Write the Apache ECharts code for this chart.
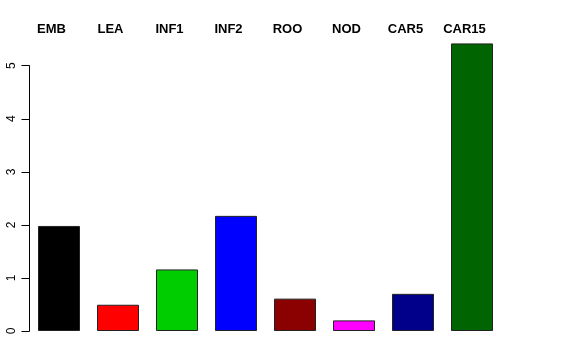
<!DOCTYPE html>
<html>
<head>
<meta charset="utf-8">
<script src="https://cdn.jsdelivr.net/npm/echarts@6/dist/echarts.min.js"></script>
<style>
html,body{margin:0;padding:0;background:#fff;}
#chart{width:576px;height:360px;}
</style>
</head>
<body>
<div id="chart"></div>
<script>
var categories = ['EMB','LEA','INF1','INF2','ROO','NOD','CAR5','CAR15'];
var values = [1.98, 0.495, 1.16, 2.17, 0.61, 0.20, 0.70, 5.42];
var colors = ['#000000','#ff0000','#00cd00','#0000ff','#8b0000','#ff00ff','#00008b','#006400'];
var yTicks = [0,1,2,3,4,5];

var chart = echarts.init(document.getElementById('chart'));
chart.setOption({
  animation: false,
  backgroundColor: '#ffffff',
  grid: {left: 29.5, right: 74.5, top: 65.7, bottom: 29, containLabel: false},
  xAxis: {
    type: 'category',
    data: categories,
    position: 'top',
    axisLine: {show: false},
    axisTick: {show: false},
    axisLabel: {
      margin: 30,
      color: '#000',
      fontWeight: 'bold',
      fontSize: 13,
      fontFamily: 'Liberation Sans, Arial, sans-serif',
      padding: [0, 15, 0, 0]
    }
  },
  yAxis: {
    type: 'value',
    min: yTicks[0],
    max: yTicks[yTicks.length-1],
    interval: 1,
    splitLine: {show: false},
    axisLine: {show: true, lineStyle: {color: '#000', width: 1}},
    axisTick: {show: true, length: 8, lineStyle: {color: '#000'}},
    axisLabel: {
      rotate: 90,
      margin: 12,
      color: '#000',
      fontSize: 12,
      fontFamily: 'Liberation Sans, Arial, sans-serif'
    }
  },
  series: [{
    type: 'bar',
    clip: false,
    barWidth: 42,
    data: values.map(function(v, i){
      return {value: v, itemStyle: {color: colors[i], borderColor: '#222', borderWidth: 1}};
    })
  }]
});
</script>
</body>
</html>
